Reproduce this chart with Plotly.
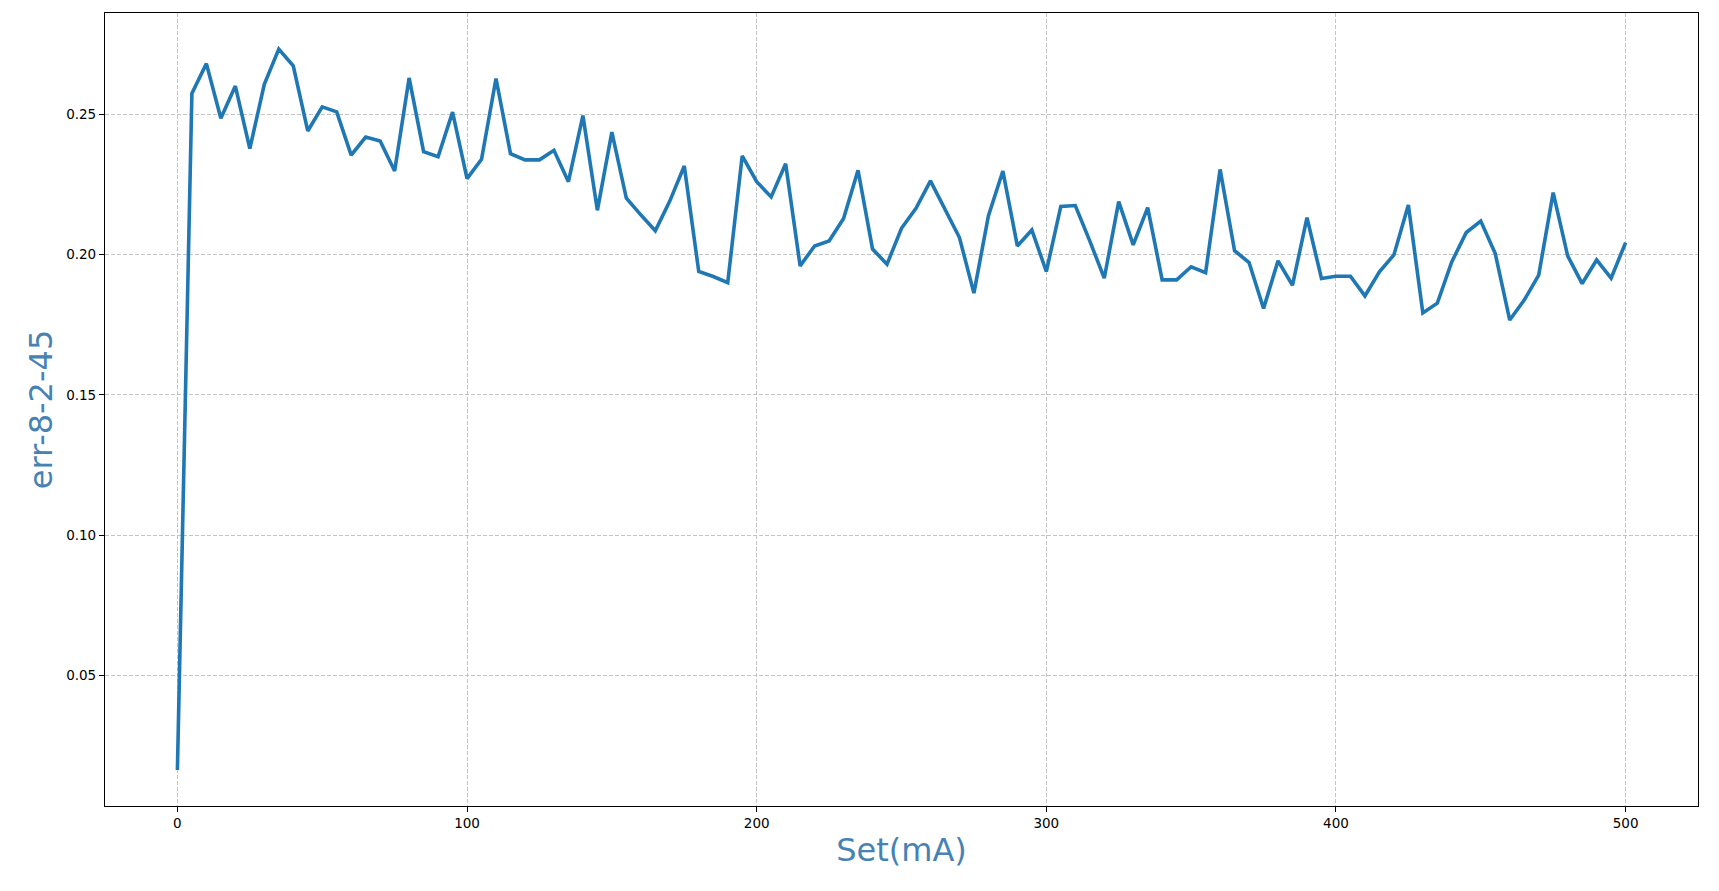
import plotly.graph_objects as go

set_ma = list(range(0, 505, 5))
err_values = [
    0.0163, 0.2575, 0.2681, 0.2486, 0.2601, 0.2378, 0.2607, 0.2733, 0.2673, 0.2441,
    0.2527, 0.2509, 0.2355, 0.2419, 0.2405, 0.2298, 0.2630, 0.2367, 0.2349, 0.2508,
    0.2271, 0.2340, 0.2628, 0.2360, 0.2338, 0.2338, 0.2372, 0.2260, 0.2496, 0.2158,
    0.2437, 0.2201, 0.2142, 0.2085, 0.2191, 0.2316, 0.1940, 0.1922, 0.1900, 0.2352,
    0.2260, 0.2206, 0.2324, 0.1960, 0.2031, 0.2049, 0.2129, 0.2301, 0.2020, 0.1966,
    0.2094, 0.2165, 0.2263, 0.2162, 0.2061, 0.1863, 0.2138, 0.2298, 0.2031, 0.2088,
    0.1940, 0.2172, 0.2175, 0.2049, 0.1916, 0.2189, 0.2035, 0.2168, 0.1910, 0.1910,
    0.1957, 0.1936, 0.2304, 0.2014, 0.1972, 0.1808, 0.1978, 0.1891, 0.2132, 0.1915,
    0.1923, 0.1923, 0.1853, 0.1939, 0.1999, 0.2177, 0.1792, 0.1827, 0.1975, 0.2079,
    0.2120, 0.2004, 0.1767, 0.1838, 0.1927, 0.2221, 0.1996, 0.1897, 0.1981, 0.1916,
    0.2043,
]
x_ticks = [0, 100, 200, 300, 400, 500]
y_ticks = [0.05, 0.10, 0.15, 0.20, 0.25]

fig = go.Figure()
fig.add_trace(go.Scatter(
    x=set_ma, y=err_values, mode="lines",
    line=dict(color="#1f77b4", width=3.6),
    showlegend=False,
))

ymin, ymax = min(err_values), max(err_values)
pad = (ymax - ymin) * 0.05
axis_common = dict(
    showline=True, linecolor="black", linewidth=1.2, mirror=True,
    ticks="outside", ticklen=5, tickcolor="black", tickwidth=1,
    showgrid=True, gridcolor="rgba(176,176,176,0.75)", gridwidth=1, griddash="4px,2px",
    zeroline=False,
    tickfont=dict(family="DejaVu Sans", size=13.5, color="black"),
)

fig.update_xaxes(
    range=[-25, 525], tickvals=x_ticks, **axis_common,
    title=dict(text="Set(mA)", font=dict(family="DejaVu Sans", size=32, color="#4682b4"), standoff=8),
)
fig.update_yaxes(
    range=[ymin - pad, ymax + pad], tickvals=y_ticks, tickformat=".2f", **axis_common,
    title=dict(text="err-8-2-45", font=dict(family="DejaVu Sans", size=32, color="#4682b4"), standoff=3),
)

fig.update_layout(
    width=1703, height=875,
    margin=dict(l=97, r=13, t=5, b=77),
    plot_bgcolor="white", paper_bgcolor="white",
)

fig.write_html("out.html")
